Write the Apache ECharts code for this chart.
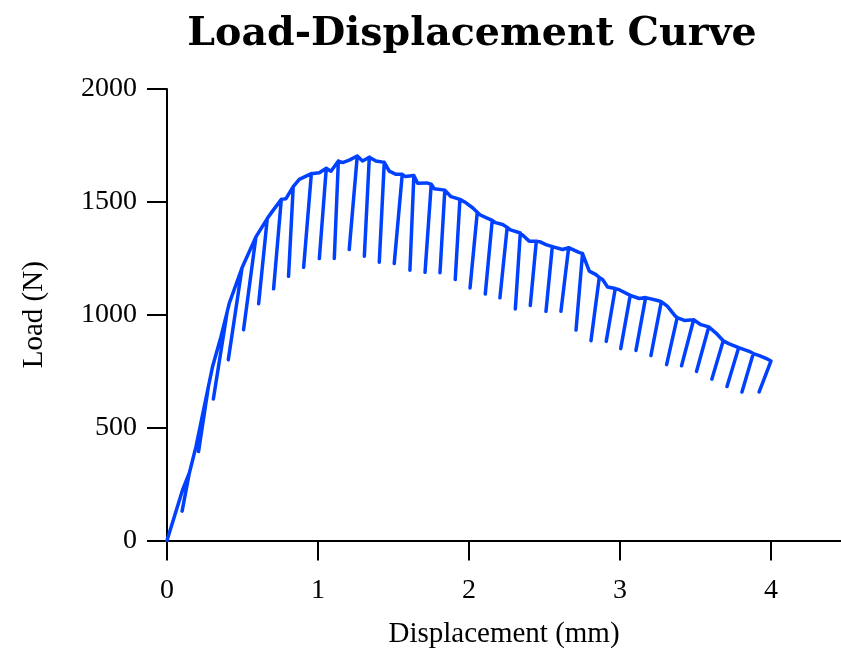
<!DOCTYPE html>
<html>
<head>
<meta charset="utf-8">
<script src="https://cdn.jsdelivr.net/npm/echarts@6/dist/echarts.min.js"></script>
<style>html,body{margin:0;padding:0;background:#fff}#c{width:841px;height:648px}</style>
</head>
<body>
<div id="c"></div>
<script>
// Envelope (backbone) points between cycles: displacement (mm), load (N)
const envD = [0, 0.103, 0.192, 0.247, 0.302, 0.358, 0.413, 0.699, 0.788, 0.876, 0.921, 1.009, 1.086, 1.163, 1.207, 1.295, 1.384, 1.472, 1.517, 1.580, 1.660, 1.720, 1.770, 1.881, 1.980, 2.024, 2.075, 2.113, 2.175, 2.223, 2.275, 2.399, 2.475, 2.510, 2.620, 2.728, 2.797, 2.841, 2.885, 2.918, 2.995, 3.128, 3.249, 3.315, 3.365, 3.426, 3.536, 3.636, 3.720, 3.856, 3.923, 3.970];
const envL = [0, 224, 416, 594, 771, 904, 1052, 1459, 1514, 1600, 1614, 1629, 1636, 1674, 1685, 1681, 1681, 1636, 1622, 1612, 1582, 1584, 1558, 1523, 1496, 1474, 1442, 1430, 1408, 1400, 1376, 1326, 1322, 1311, 1289, 1276, 1193, 1178, 1156, 1123, 1111, 1072, 1063, 1037, 995, 975, 956, 919, 872, 838, 819, 806];
// Unloading cycles: peak (start of unloading) and bottom (end of unloading)
const peakD = [0.148, 0.274, 0.399, 0.497, 0.589, 0.664, 0.757, 0.836, 0.956, 1.055, 1.135, 1.260, 1.340, 1.439, 1.558, 1.635, 1.750, 1.840, 1.940, 2.055, 2.154, 2.253, 2.340, 2.446, 2.552, 2.660, 2.752, 2.863, 2.969, 3.068, 3.170, 3.274, 3.379, 3.488, 3.588, 3.684, 3.786, 3.883, 4.000];
const peakL = [299, 681, 1014, 1208, 1345, 1426, 1511, 1568, 1625, 1649, 1681, 1703, 1698, 1675, 1622, 1617, 1578, 1552, 1511, 1454, 1418, 1387, 1362, 1326, 1302, 1297, 1271, 1165, 1116, 1086, 1076, 1058, 987, 978, 946, 885, 854, 828, 795];
const botD = [0.100, 0.209, 0.307, 0.406, 0.507, 0.607, 0.706, 0.805, 0.905, 1.009, 1.108, 1.207, 1.307, 1.406, 1.505, 1.609, 1.709, 1.808, 1.909, 2.007, 2.108, 2.205, 2.307, 2.406, 2.510, 2.609, 2.709, 2.808, 2.909, 3.005, 3.106, 3.205, 3.309, 3.408, 3.507, 3.609, 3.709, 3.808, 3.922];
const botL = [130, 394, 627, 801, 934, 1049, 1115, 1170, 1210, 1249, 1249, 1289, 1259, 1233, 1227, 1197, 1188, 1186, 1156, 1119, 1092, 1075, 1026, 1041, 1015, 1015, 932, 885, 882, 850, 842, 819, 779, 774, 749, 715, 682, 658, 658];
const xTicks = [0, 1, 2, 3, 4];
const yTicks = [0, 500, 1000, 1500, 2000];

// Assemble the continuous test record
const pts = [];
let i = 0, k = 0;
while (i < envD.length || k < peakD.length) {
  if (k >= peakD.length || (i < envD.length && envD[i] < peakD[k])) {
    pts.push([envD[i], envL[i]]); i++;
  } else {
    pts.push([peakD[k], peakL[k]]);
    pts.push([botD[k], botL[k]]);
    if (k < peakD.length - 1) pts.push([peakD[k], peakL[k]]);
    k++;
  }
}

const serif = '"Liberation Serif", "Times New Roman", serif';
const chart = echarts.init(document.getElementById('c'));
chart.setOption({
  animation: false,
  title: {
    text: 'Load-Displacement Curve',
    left: 472, top: 15, padding: 0,
    textAlign: 'center',
    textStyle: { fontFamily: '"DejaVu Serif", serif', fontWeight: 'bold', fontSize: 39.5, color: '#000' }
  },
  grid: { left: 167, top: 89, right: 0, bottom: 107.5, outerBoundsMode: 'none', containLabel: false },
  xAxis: [{
    type: 'value', min: 0, max: 4.464,
    name: 'Displacement (mm)', nameLocation: 'middle', nameGap: 79,
    nameTextStyle: { fontFamily: serif, fontSize: 29, color: '#000' },
    axisLine: { show: true, onZero: false, lineStyle: { color: '#000', width: 2 } },
    axisTick: { show: true, inside: false, length: 20, customValues: xTicks, lineStyle: { color: '#000', width: 2 } },
    axisLabel: { margin: 36, fontFamily: serif, fontSize: 28, color: '#000', customValues: xTicks,
      formatter: v => String(v) },
    splitLine: { show: false }
  }, {
    type: 'value', position: 'top', min: 0, max: 4.464,
    axisLine: { show: true, lineStyle: { color: '#000', width: 2 } },
    axisTick: { show: false }, axisLabel: { show: false }, splitLine: { show: false }
  }],
  yAxis: {
    type: 'value', min: 0, max: 2000, interval: 500,
    name: 'Load (N)', nameLocation: 'middle', nameGap: 118,
    nameTextStyle: { fontFamily: serif, fontSize: 29, color: '#000' },
    axisLine: { show: true, onZero: false, lineStyle: { color: '#000', width: 2 } },
    axisTick: { show: true, inside: false, length: 20, customValues: yTicks, lineStyle: { color: '#000', width: 2 } },
    axisLabel: { margin: 30, fontFamily: serif, fontSize: 28, color: '#000', customValues: yTicks,
      formatter: v => String(v) },
    splitLine: { show: false }
  },
  series: [{
    type: 'line', xAxisIndex: 0, data: pts, showSymbol: false, symbol: 'none',
    lineStyle: { color: '#0040ff', width: 3.5, join: 'round', cap: 'round' },
    clip: true
  }]
});
</script>
</body>
</html>
